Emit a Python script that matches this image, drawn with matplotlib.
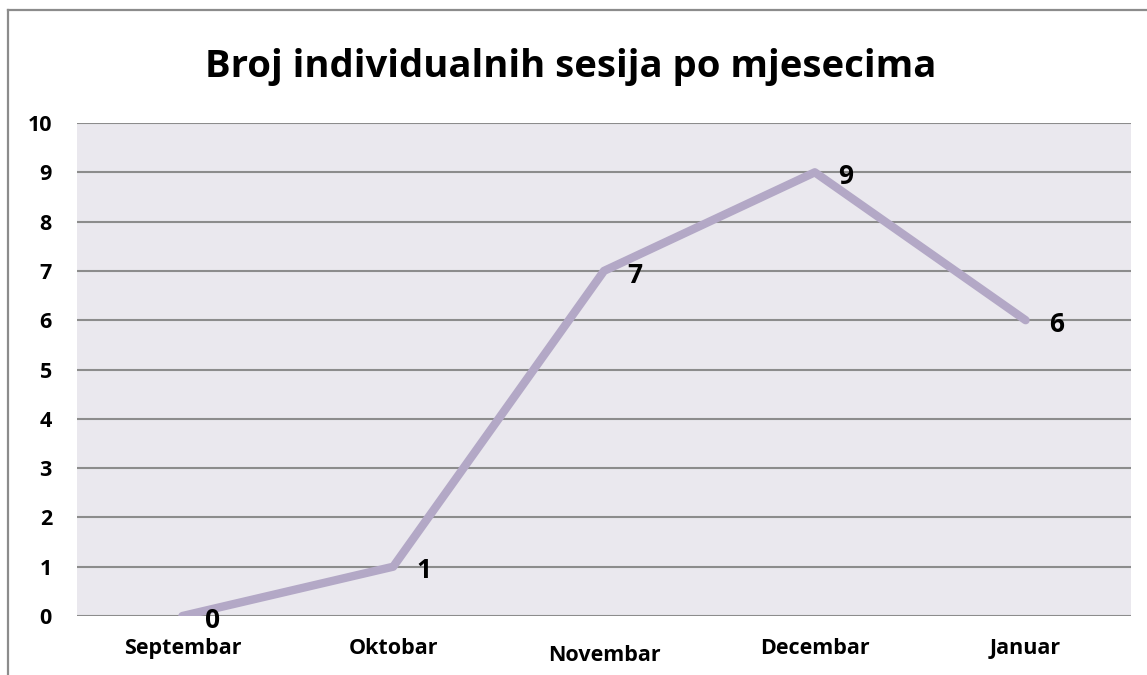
import matplotlib
matplotlib.use("Agg")
import matplotlib.pyplot as plt
from matplotlib.lines import Line2D

months = ["Septembar", "Oktobar", "Novembar", "Decembar", "Januar"]
sessions = [0, 1, 7, 9, 6]
y_ticks = list(range(0, 11))
title = "Broj individualnih sesija po mjesecima"

plt.rcParams['font.family'] = ['Open Sans', 'DejaVu Sans']

W, H = 1147, 675
fig = plt.figure(figsize=(W / 100, H / 100), dpi=100)
fig.patch.set_facecolor("white")

ax = fig.add_axes([77 / W, 1 - 616 / H, (1131 - 77) / W, (616 - 123) / H])
ax.set_facecolor("#EAE8EE")
x = list(range(len(months)))
ax.plot(x, sessions, color="#B3A8C6", lw=6, solid_capstyle="round",
        solid_joinstyle="round", zorder=3)

for xi, v in zip(x, sessions):
    ax.annotate(str(v), (xi, v), xytext=(22, -3), textcoords="offset points",
                ha="center", va="center", fontsize=19, fontweight="bold",
                color="black", zorder=4)

ax.set_xlim(-0.5, len(months) - 0.5)
ax.set_ylim(0, 10)
ax.set_yticks(y_ticks)
ax.set_yticklabels([str(t) for t in y_ticks], fontsize=15.5, fontweight="bold")
ax.set_xticks(x)
ax.set_xticklabels(months, fontsize=15.5, fontweight="bold")
for i, lbl in enumerate(ax.get_xticklabels()):
    if months[i] == "Novembar":
        lbl.set_y(-0.014)
ax.tick_params(axis="y", length=0, pad=18)
ax.tick_params(axis="x", length=0, pad=16)
ax.yaxis.grid(True, color="#8C8C8C", lw=1.5)
ax.set_axisbelow(True)
for s in ax.spines.values():
    s.set_visible(False)
ax.axhline(0, color="#8C8C8C", lw=2, zorder=2)

fig.text(571 / W, 1 - 67 / H, title, ha="center", va="center",
         fontsize=27.5, fontweight="bold", color="black")

fig.add_artist(Line2D([8 / W, 1], [1 - 10 / H, 1 - 10 / H], color="#8C8C8C",
                      lw=1.6, transform=fig.transFigure))
fig.add_artist(Line2D([8 / W, 8 / W], [0, 1 - 10 / H], color="#8C8C8C",
                      lw=1.6, transform=fig.transFigure))

fig.savefig("out.png", dpi=100)
